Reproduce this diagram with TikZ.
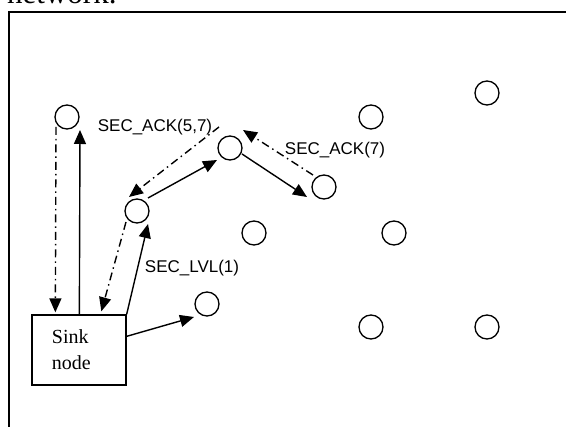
\documentclass[tikz,border=0pt]{standalone}
\usepackage{fontspec}
\setmainfont{Liberation Serif}
\newfontfamily\lsans{Liberation Sans}
\usetikzlibrary{arrows.meta,calc}
\begin{document}
\begin{tikzpicture}[x=1pt,y=-1pt,
  dot/.style={circle,draw,minimum size=24pt,inner sep=0pt,line width=1.3pt},
  sinkbox/.style={draw,line width=1.3pt,minimum width=94pt,minimum height=70pt,
    text width=54pt,inner xsep=20pt,align=left,font=\fontsize{20}{26}\selectfont},
  lbl/.style={font=\lsans\fontsize{17}{20}\selectfont,inner sep=0pt},
  sol/.style={line width=1.4pt,-{Triangle[length=14pt,width=12pt]}},
  dd/.style={line width=1.4pt,dash pattern=on 8pt off 4pt on 1.5pt off 4pt,-{Triangle[length=14pt,width=12pt]}}]
\useasboundingbox (0,0) rectangle (566,427);
\clip (0,0) rectangle (566,427);
% caption fragment and frame
\node[anchor=base west,inner sep=0pt,font=\fontsize{31}{34}\selectfont] (cap) at (7,4) {network.};
\coordinate (fbl) at (9,440);
\coordinate (ftl) at (9,12);
\coordinate (ftr) at (580,12);
\draw[line width=1.6pt] (fbl) -- (ftl) -- (ftr);
% sensor nodes
\node[dot] (n1) at (67,117) {};
\node[dot] (n3) at (137,211) {};
\node[dot] (n4) at (230,148) {};
\node[dot] (n5) at (324,187) {};
\node[dot] (n6) at (207,304) {};
\node[dot] (n7) at (254,233) {};
\node[dot] (n8) at (371,117) {};
\node[dot] (n9) at (487,93) {};
\node[dot] (n10) at (394,233) {};
\node[dot] (n11) at (371,327) {};
\node[dot] (n12) at (487,327) {};
% sink
\node[sinkbox] (sink) at (79,350) {Sink\\node};
% connectors
\draw[sol] ($(sink.north west)+(48,0)$) -- ($(n1)+(13,13)$);
\draw[dd] ($(n1)+(-11,10)$) -- ($(sink.north west)+(24,-2)$);
\draw[sol] (sink.north east) -- ($(n3)+(11,13)$);
\draw[dd] ($(n3)+(-11,11)$) -- ($(sink.north west)+(70,-3)$);
\draw[sol] ($(sink.north east)+(0,22)$) -- ($(n6)+(-13,13)$);
\draw[sol] ($(n3)+(11,-13)$) -- ($(n4)+(-13,12)$);
\draw[dd] ($(n4)+(-11,-21)$) -- ($(n3)+(-8,-14)$);
\draw[sol] ($(n4)+(12,6)$) -- ($(n5)+(-17,10)$);
\draw[dd] ($(n5)+(-11,-12)$) -- ($(n4)+(13,-18)$);
% labels
\node[lbl] (l1) at (155,127) {SEC\_ACK(5,7)};
\node[lbl] (l2) at (335,150) {SEC\_ACK(7)};
\node[lbl] (l3) at (192,268) {SEC\_LVL(1)};
\end{tikzpicture}
\end{document}
